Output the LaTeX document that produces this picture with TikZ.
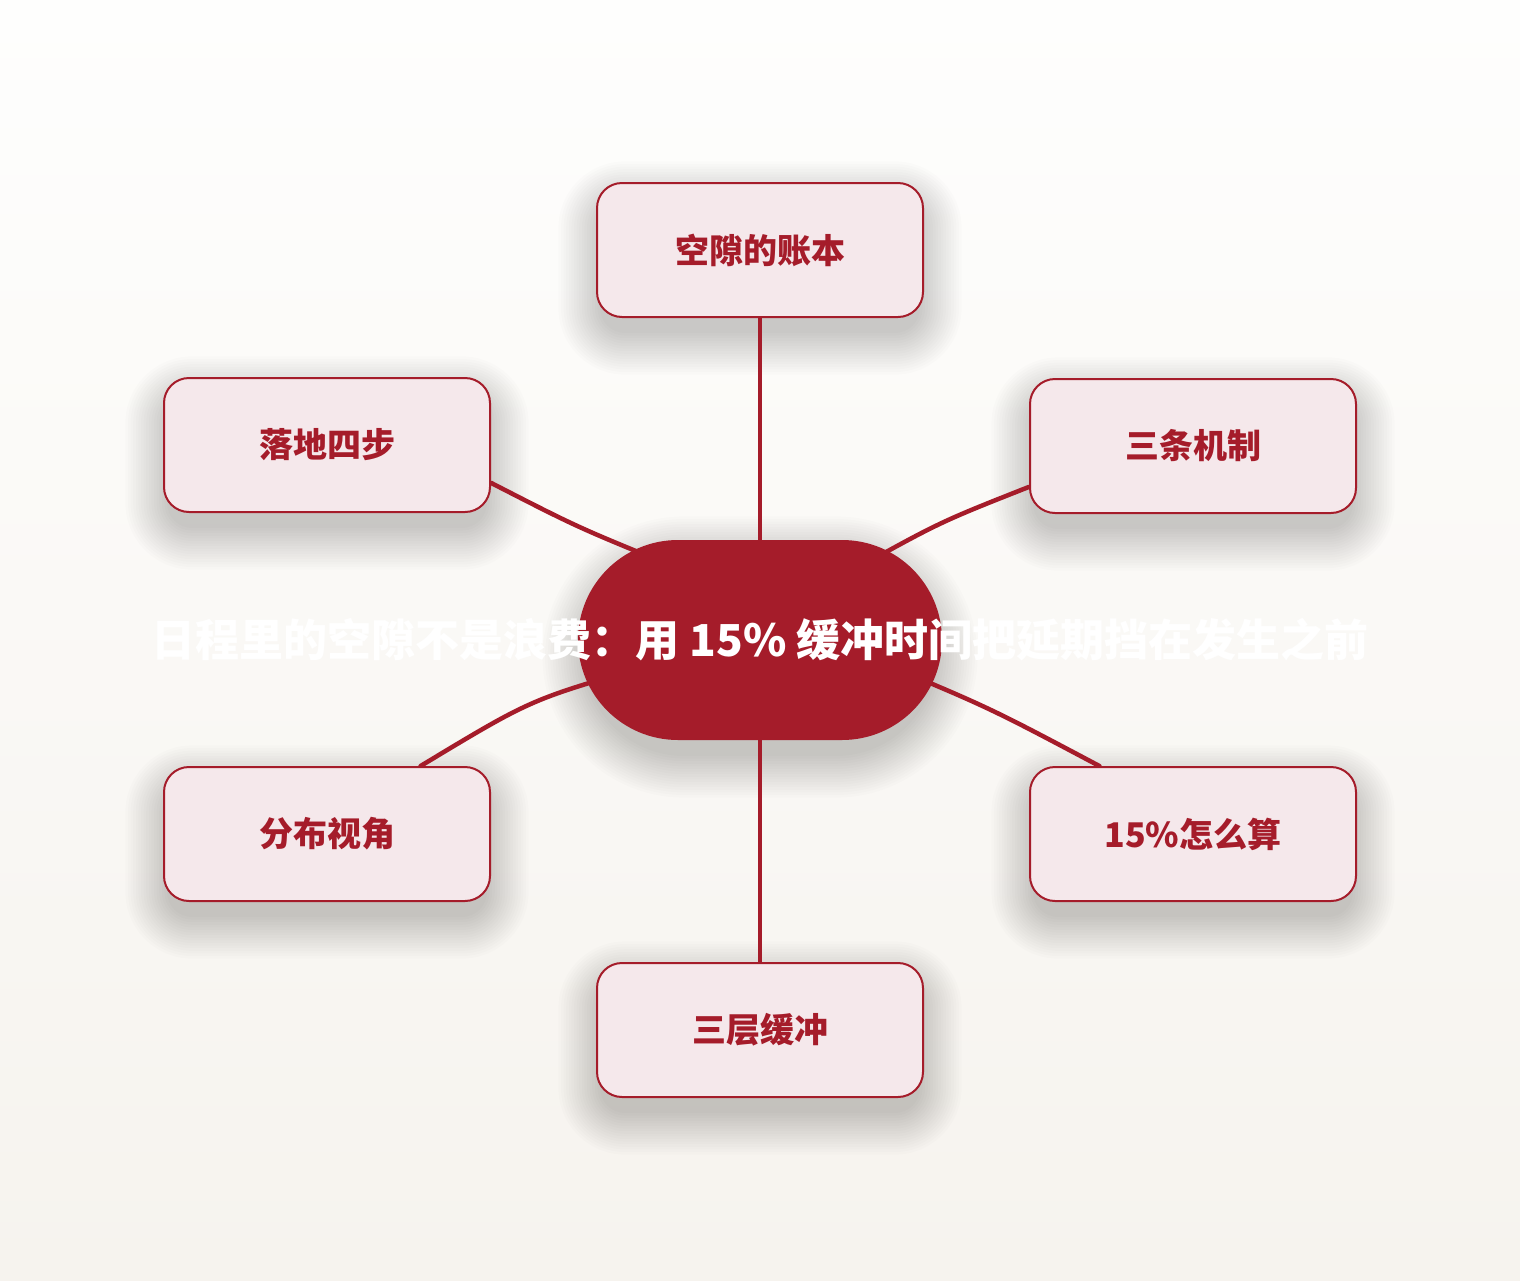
\documentclass[tikz,border=0pt]{standalone}
\usepackage{fontspec}
\setmainfont{Noto Sans CJK SC}
\usetikzlibrary{calc}
\definecolor{mainred}{HTML}{A51C2A}
\definecolor{boxfill}{HTML}{F5E8EB}
\definecolor{bgtop}{HTML}{FEFEFD}
\definecolor{bgbot}{HTML}{F6F3EE}
\pgfdeclarelayer{bglayer}
\pgfdeclarelayer{shadowlayer}
\pgfdeclarelayer{linelayer}
\pgfsetlayers{bglayer,shadowlayer,linelayer,main}
\newcommand\mysoftshadow[5]{%
  \foreach \k in {0,...,16}{%
    \pgfmathsetmacro{\e}{2.6*\k}%
    \fill[black, opacity=0.0135, rounded corners=#5pt+\e pt]
      (#1-\e,#2-\e) rectangle (#3+\e,#4+\e);
  }%
}
\tikzset{
  leafbox/.style={draw=mainred, line width=2pt, fill=boxfill, rounded corners=25pt,
    minimum width=326pt, minimum height=134pt, inner sep=0pt,
    text=mainred, font=\fontsize{34}{40}\selectfont\bfseries},
  hubnode/.style={fill=mainred, rounded corners=100pt, minimum width=364pt, minimum height=200pt,
    inner sep=0pt},
  hubtext/.style={text=white, inner sep=0pt, font=\fontsize{44}{52}\selectfont\bfseries},
  link/.style={draw=mainred, line width=4.5pt, line cap=round}
}
\begin{document}
\begin{tikzpicture}[x=1pt,y=-1pt]
\begin{pgfonlayer}{bglayer}
\shade[top color=bgtop, bottom color=bgbot] (0,0) rectangle (1520,1280);
\end{pgfonlayer}
\useasboundingbox (0,0) rectangle (1520,1280);

\node[hubnode] (c) at (760,640) {};
\node[hubtext] (ct) at (c.center) {日程里的空隙不是浪费：用 15\% 缓冲时间把延期挡在发生之前};
\node[leafbox] (t) at (760,250) {空隙的账本};
\node[leafbox] (lt) at (327,445) {落地四步};
\node[leafbox] (rt) at (1193,446) {三条机制};
\node[leafbox] (lb) at (327,834) {分布视角};
\node[leafbox] (rb) at (1193,834) {15\%怎么算};
\node[leafbox] (bt) at (760,1030) {三层缓冲};

\begin{pgfonlayer}{shadowlayer}
\mysoftshadow{584}{558}{936}{756}{100}
\mysoftshadow{600}{203}{920}{333}{25}
\mysoftshadow{167}{398}{487}{528}{25}
\mysoftshadow{1033}{399}{1353}{529}{25}
\mysoftshadow{167}{787}{487}{917}{25}
\mysoftshadow{1033}{787}{1353}{917}{25}
\mysoftshadow{600}{983}{920}{1113}{25}
\end{pgfonlayer}

\begin{pgfonlayer}{linelayer}
\draw[link] (t.south) -- (c.center);
\draw[link] (bt.north) -- (c.center);
\draw[link] (lt.-13) .. controls (577,527) .. ($(c.center)+(-90,-75)$);
\draw[link] (rt.194) .. controls (940,522) .. ($(c.center)+(90,-68)$);
\draw[link] (lb.36) .. controls (530,700) .. ($(c.center)+(-120,28)$);
\draw[link] (rb.144) .. controls (990,708) .. ($(c.center)+(120,22)$);
\end{pgfonlayer}
\end{tikzpicture}
\end{document}
